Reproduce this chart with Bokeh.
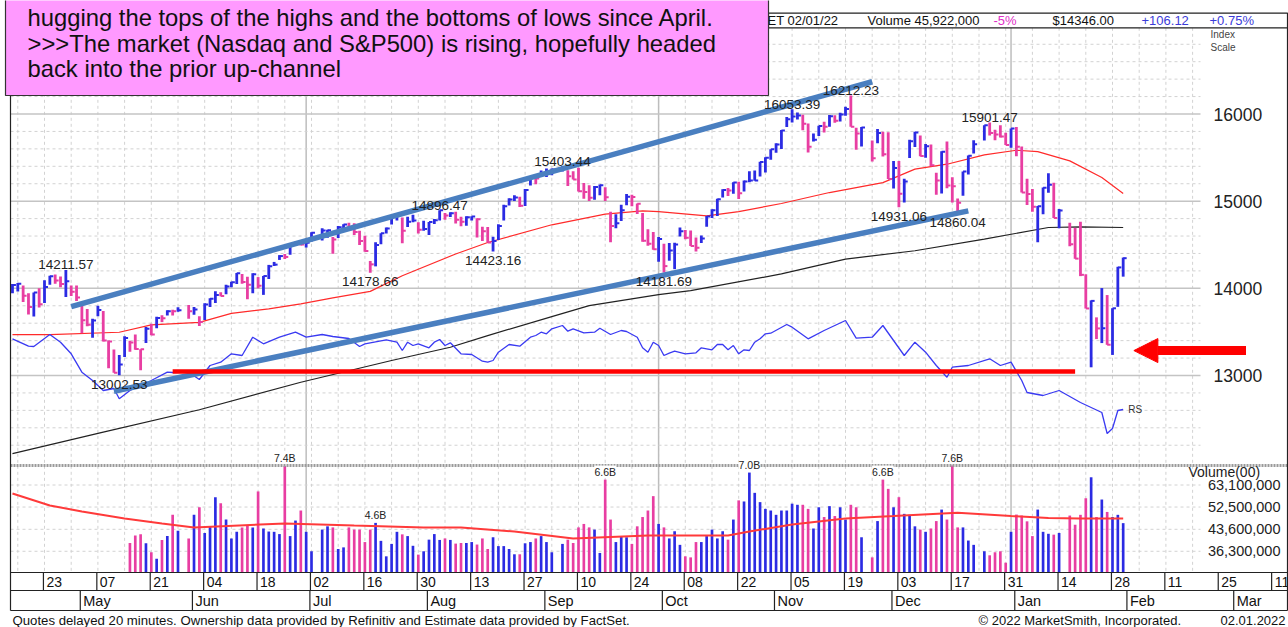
import numpy as np
import pandas as pd
from bokeh.plotting import figure
from bokeh.models import Range1d, LogScale, ColumnDataSource, LabelSet, Arrow, NormalHead
from bokeh.core.properties import value
from bokeh.embed import file_html
from bokeh.resources import INLINE

FONT = "Liberation Sans"

# ------------------------------------------------------------------ data
holidays = ["2021-05-31", "2021-07-05", "2021-09-06", "2021-11-25", "2021-12-24", "2022-01-17"]
first_day, last_day = "2021-04-15", "2022-02-01"
prior_close = 13857

highs = [
    14049, 14061, 14032, 13943, 13953, 14000, 14093, 14145, 14158, 14135, 14211.57, 14033,
    14033, 13815, 13764, 13650, 13800, 13739, 13401, 13298, 13235, 13450, 13398, 13470, 13302, 13556, 13595, 13673, 13690, 13748, 13754, 13783,
    13810, 13786, 13681, 13829, 13886, 13966, 13956, 14040, 14075, 14175, 14164, 14132, 14174, 14129, 14142, 14269, 14303, 14381, 14394, 14505, 14535, 14534,
    14529, 14643, 14689, 14671, 14588, 14715, 14734, 14751, 14748, 14660, 14603, 14314, 14528, 14633, 14699, 14841, 14850, 14813, 14822, 14844, 14757,
    14774, 14762, 14795, 14896.47, 14863, 14872, 14880, 14820, 14826, 14828, 14804, 14706, 14703, 14593, 14734, 14960, 15033, 15069, 15050, 15140, 15288, 15281,
    15353, 15376, 15375, 15403.44, 15355, 15343, 15382, 15209, 15183, 15175, 15192, 15161, 14880, 14851, 14959, 15083, 15075, 14973, 14865, 14678, 14646,
    14590, 14512, 14521, 14522, 14697, 14668, 14664, 14584, 14606, 14831, 14906, 15027, 15137, 15150, 15217, 15224, 15237, 15342, 15351, 15453, 15504,
    15596, 15664, 15817, 15966, 16053.39, 16018, 15990, 15891, 15777, 15866, 15912, 15989, 15986, 16015, 16082, 16212.23, 15843, 15852, 15695, 15827, 15795,
    15790, 15460, 15462, 15258, 15705, 15797, 15752, 15656, 15651, 15325, 15574, 15684, 15273, 15032, 15341, 15523, 15700, 15871, 15901.47, 15818, 15870, 15785,
    15833, 15852, 15626, 15257, 15141, 14944, 15157, 15319, 15210, 14911, 14752, 14695, 14765, 14161, 13862, 13667, 14003, 13923, 13772, 14247,
    14353,
]
lows = [
    13943, 13963, 13842, 13700, 13676, 13780, 13833, 14042, 14054, 14013, 13900, 13912,
    13856, 13485, 13564, 13433, 13680, 13389, 13083, 13032, 13002.53, 13212, 13272, 13296, 13061, 13373, 13463, 13541, 13615, 13687, 13689, 13731,
    13651, 13697, 13568, 13637, 13786, 13832, 13908, 13931, 14011, 14050, 14053, 13874, 13945, 14000, 13925, 14107, 14256, 14326, 14336, 14386, 14490, 14490,
    14469, 14536, 14548, 14581, 14398, 14577, 14673, 14665, 14613, 14498, 14421, 14178.66, 14252, 14507, 14630, 14732, 14779, 14517, 14704, 14758, 14629,
    14661, 14613, 14739, 14777, 14788, 14818, 14743, 14713, 14717, 14778, 14582, 14544, 14525, 14423.16, 14554, 14779, 14950, 15003, 14932, 14945, 15181, 15195,
    15283, 15278, 15296, 15340, 15174, 15248, 15112, 15029, 15001, 15015, 15068, 15002, 14530, 14690, 14772, 14954, 14941, 14852, 14535, 14489, 14444,
    14305, 14181.69, 14317, 14220, 14594, 14564, 14486, 14423, 14520, 14707, 14806, 14831, 15042, 15059, 15086, 15026, 15110, 15216, 15234, 15284, 15330,
    15476, 15555, 15598, 15850, 15903, 15938, 15813, 15558, 15685, 15749, 15789, 15855, 15901, 15914, 15979, 15853, 15589, 15627, 15455, 15664, 15513,
    15254, 15146, 14931.06, 14986, 15496, 15621, 15516, 15498, 15400, 15075, 15087, 15149, 14985, 14860.04, 15063, 15306, 15546, 15697, 15754, 15700, 15729, 15643,
    15614, 15514, 15100, 14957, 14880, 14530, 14851, 15096, 14807, 14689, 14483, 14339, 14140, 13768, 13094, 13418, 13372, 13352, 13236, 13788,
    14134,
]
closes = [
    14039, 14052, 13914, 13787, 13951, 13818, 14016, 14138, 14090, 14051, 14082, 13962,
    13895, 13633, 13582, 13632, 13752, 13402, 13389, 13032, 13125, 13430, 13379, 13304, 13300, 13535, 13471, 13661, 13657, 13738, 13736, 13749,
    13736, 13756, 13614, 13814, 13881, 13924, 13911, 14020, 14069, 14174, 14073, 14040, 14161, 14030, 14141, 14253, 14272, 14370, 14360, 14500, 14528, 14504,
    14522, 14639, 14663, 14665, 14559, 14701, 14733, 14677, 14645, 14543, 14428, 14275, 14498, 14632, 14685, 14837, 14840, 14660, 14763, 14778, 14673,
    14681, 14761, 14780, 14895, 14835, 14860, 14788, 14765, 14816, 14823, 14793, 14656, 14526, 14542, 14715, 14942, 15019, 15042, 14946, 15129, 15266, 15259,
    15310, 15331, 15364, 15374, 15287, 15249, 15115, 15106, 15038, 15162, 15182, 15044, 14714, 14747, 14897, 15052, 15048, 14970, 14547, 14512, 14449,
    14567, 14255, 14433, 14502, 14655, 14580, 14486, 14465, 14572, 14823, 14897, 15022, 15129, 15121, 15215, 15090, 15227, 15236, 15237, 15448, 15498,
    15595, 15650, 15812, 15940, 15971, 15982, 15887, 15623, 15704, 15861, 15853, 15974, 15922, 15993, 16057, 15855, 15775, 15845, 15492, 15783, 15538,
    15254, 15381, 15085, 15225, 15686, 15787, 15517, 15630, 15413, 15238, 15566, 15181, 15170, 14981, 15341, 15522, 15653, 15871, 15781, 15766, 15741, 15645,
    15833, 15623, 15100, 15081, 14936, 14943, 15153, 15188, 14807, 14894, 14507, 14341, 14155, 13769, 13856, 13540, 13542, 13353, 13771, 14240,
    14346,
]

# daily volume in billions of shares (bars start on this date)
vol_start = "2021-05-17"
volumes = [
    3.89, 4.14, 4.18, 3.88, 3.60, 3.41, 3.99, 4.12, 4.92, 4.31,
    4.04, 4.92, 5.24, 4.23, 4.47, 5.70, 5.42, 4.73, 4.04, 4.27, 4.43, 4.51, 4.43, 5.98, 4.39, 4.28, 4.27, 4.19, 7.40, 4.12, 4.69, 5.10,
    4.27, 3.63, 4.35, 4.47, 4.43, 3.70, 3.75, 4.43, 4.35, 4.35, 3.92, 4.35, 4.60, 3.96, 3.48, 3.86, 4.27, 4.18, 4.12, 3.80, 3.53,
    3.63, 4.00, 4.19, 3.99, 4.04, 3.99, 3.87, 3.89, 3.89, 3.92, 3.84, 4.04, 3.70, 4.08, 3.79, 3.79, 3.70, 3.54, 3.54, 3.88, 3.92, 4.04,
    4.12, 3.92, 3.60, 3.86, 4.00, 3.89, 4.43, 4.56, 4.43, 4.35, 3.58, 6.60, 4.73, 3.92, 4.12, 4.08, 3.86, 4.47, 4.83, 5.10, 5.75,
    4.56, 4.43, 4.04, 4.29, 3.83, 3.48, 3.45, 3.92, 3.92, 4.12, 4.35, 4.04, 4.29, 4.00, 4.73, 5.55, 5.50, 7.00, 5.91, 5.47, 5.17,
    5.10, 4.92, 5.10, 5.10, 5.40, 5.35, 5.35, 5.17, 4.39, 5.24, 4.83, 5.29, 4.87, 5.24, 4.73, 5.35, 5.24, 4.08, 3.45, 4.67, 6.60,
    6.11, 5.24, 5.70, 4.96, 4.92, 4.47, 4.35, 4.27, 4.39, 4.67, 5.14, 4.73, 7.60, 4.43, 4.43, 3.97, 3.83, 3.63, 3.51, 3.60, 3.63, 3.30,
    4.27, 4.93, 4.89, 4.66, 4.12, 5.14, 4.27, 4.20, 4.17, 4.23, 4.89, 4.53, 4.92, 5.65, 6.73, 4.83, 5.59, 5.04, 4.83, 4.92,
    4.59,
]

ma50_dates = ["2021-04-15", "2021-04-26", "2021-05-13", "2021-05-21", "2021-06-03", "2021-06-11", "2021-06-22", "2021-06-30",
              "2021-07-08", "2021-07-19", "2021-07-27", "2021-08-10", "2021-08-18", "2021-09-03", "2021-09-17", "2021-09-28",
              "2021-10-01", "2021-10-14", "2021-10-22", "2021-11-03", "2021-11-16", "2021-11-30", "2021-12-08", "2021-12-16",
              "2021-12-27", "2022-01-04", "2022-01-10", "2022-01-18", "2022-01-26", "2022-02-01"]
ma50_vals = [13469, 13469, 13496, 13581, 13610, 13713, 13764, 13821, 13890, 13965, 14145, 14394, 14526, 14729, 14852, 14889,
             14881, 14832, 14881, 14973, 15099, 15213, 15367, 15424, 15531, 15584, 15568, 15462, 15271, 15088]

ma200_dates = ["2021-04-15", "2021-05-10", "2021-06-03", "2021-06-30", "2021-07-23", "2021-08-09", "2021-08-18", "2021-09-03",
               "2021-09-14", "2021-10-01", "2021-10-11", "2021-11-03", "2021-11-19", "2021-12-08", "2021-12-27", "2022-01-12",
               "2022-01-20", "2022-02-01"]
ma200_vals = [12103, 12351, 12607, 12923, 13172, 13324, 13458, 13676, 13802, 13928, 13973, 14165, 14336, 14431, 14565, 14698,
              14706, 14698]

volma_dates = ["2021-04-15", "2021-04-26", "2021-05-04", "2021-05-14", "2021-05-25", "2021-06-02", "2021-06-25", "2021-07-14",
               "2021-08-02", "2021-08-11", "2021-08-25", "2021-09-09", "2021-09-29", "2021-10-20", "2021-10-26", "2021-11-05",
               "2021-11-19", "2021-12-02", "2021-12-20", "2022-01-03", "2022-01-12", "2022-01-20", "2022-02-01"]
volma_vals = [5.88, 5.32, 5.06, 4.77, 4.58, 4.43, 4.58, 4.50, 4.43, 4.43, 4.28, 4.04, 4.14, 4.14, 4.28, 4.54,
              4.77, 4.87, 5.01, 4.87, 4.79, 4.77, 4.77]

rs_dates = ["2021-04-15", "2021-04-20", "2021-04-21", "2021-04-26", "2021-04-28", "2021-04-30", "2021-05-04", "2021-05-06",
            "2021-05-10", "2021-05-12", "2021-05-13", "2021-05-17", "2021-05-19", "2021-05-21", "2021-05-26", "2021-05-27",
            "2021-06-01", "2021-06-03", "2021-06-07", "2021-06-09", "2021-06-11", "2021-06-15", "2021-06-17", "2021-06-21",
            "2021-06-24", "2021-06-29", "2021-07-01", "2021-07-06", "2021-07-08", "2021-07-13", "2021-07-15", "2021-07-16",
            "2021-07-22", "2021-07-26", "2021-07-27", "2021-07-28", "2021-07-29", "2021-07-30", "2021-08-03", "2021-08-04",
            "2021-08-05", "2021-08-06", "2021-08-09", "2021-08-11", "2021-08-13", "2021-08-17", "2021-08-18", "2021-08-19",
            "2021-08-20", "2021-08-24", "2021-08-26", "2021-08-30", "2021-08-31", "2021-09-01", "2021-09-02", "2021-09-03",
            "2021-09-07", "2021-09-08", "2021-09-09", "2021-09-13", "2021-09-15", "2021-09-16", "2021-09-20", "2021-09-22",
            "2021-09-23", "2021-09-27", "2021-09-28", "2021-09-29", "2021-09-30", "2021-10-01", "2021-10-04", "2021-10-05",
            "2021-10-06", "2021-10-08", "2021-10-12", "2021-10-13", "2021-10-15", "2021-10-18", "2021-10-19", "2021-10-20",
            "2021-10-21", "2021-10-22", "2021-10-25", "2021-10-26", "2021-10-27", "2021-10-28", "2021-10-29", "2021-11-01",
            "2021-11-04", "2021-11-05", "2021-11-10", "2021-11-15", "2021-11-19", "2021-11-23", "2021-11-26", "2021-11-30",
            "2021-12-06", "2021-12-08", "2021-12-10", "2021-12-14", "2021-12-16", "2021-12-17", "2021-12-22", "2021-12-28",
            "2021-12-30", "2022-01-03", "2022-01-05", "2022-01-06", "2022-01-11", "2022-01-14", "2022-01-20", "2022-01-26",
            "2022-01-27", "2022-01-28", "2022-01-31", "2022-02-01"]
rs_vals = [279.7, 272.3, 272.0, 284.0, 276.3, 264.7, 246.3, 238.0, 228.0, 230.0, 219.7, 228.0, 233.0, 238.0, 246.3, 246.0,
           246.3, 239.0, 253.0, 256.3, 264.7, 263.0, 281.3, 274.7, 281.3, 286.3, 281.3, 284.0, 282.0, 280.0, 272.0, 274.7,
           278.7, 276.3, 268.0, 276.3, 273.0, 274.7, 270.7, 276.3, 279.0, 273.0, 275.7, 264.7, 264.0, 257.3, 256.3, 258.0,
           266.3, 274.0, 272.3, 281.3, 283.0, 286.3, 284.7, 289.7, 293.0, 287.3, 289.7, 285.7, 286.3, 290.3, 284.0, 288.0,
           287.0, 281.3, 270.7, 266.3, 276.3, 273.0, 263.0, 265.3, 267.3, 264.7, 265.7, 270.7, 268.7, 274.0, 274.0, 268.7,
           273.0, 264.7, 268.7, 268.0, 276.3, 279.7, 284.7, 285.3, 294.0, 291.3, 279.7, 288.0, 298.0, 280.3, 281.3, 293.0,
           263.0, 276.3, 266.3, 253.0, 241.3, 251.3, 253.0, 259.7, 253.0, 256.3, 238.0, 226.0, 223.0, 228.0, 216.0, 206.0,
           185.0, 190.0, 208.0, 209.0]

high_label_dates = ["2021-04-29", "2021-08-05", "2021-09-07", "2021-11-05", "2021-11-22", "2021-12-28"]
low_label_dates = ["2021-05-13", "2021-07-19", "2021-08-19", "2021-10-04", "2021-12-03", "2021-12-20"]
vol_label_dates = ["2021-06-25", "2021-07-20", "2021-09-17", "2021-10-26", "2021-11-30", "2021-12-17"]

price_ticks = [13000, 14000, 15000, 16000]
vol_ticks = [6.31, 5.25, 4.36, 3.63]

# analyst annotations (date, price)
upper_channel = (("2021-04-30", 13790), ("2021-11-26", 16370))
lower_channel = (("2021-05-12", 12820), ("2021-12-22", 14889))
support_line = (("2021-05-27", 13046), ("2022-01-19", 13046))
arrow_pts = (("2022-03-04", 13286), ("2022-02-03", 13286))

note_lines = ["hugging the tops of the highs and the bottoms of lows since April.",
              ">>>The market (Nasdaq and S&P500) is rising, hopefully headed",
              "back into the prior up-channel"]

# ------------------------------------------------------------------ geometry
W, H = 1288, 627
X0, DX = 44.0, 5.34           # page-x of 2021-04-23 and pixels per weekday


def slot(d):
    return int(np.busday_count(np.datetime64("2021-04-23"), np.datetime64(pd.Timestamp(d).date())))


def price_at(ypage):
    return 13000 + (375.0 - ypage) * 3000.0 / 261.5


def vol_at(ypage):
    return 6.31 * 10 ** ((484.5 - ypage) / 276.0)


trade_days = [d for d in pd.bdate_range(first_day, last_day) if d.strftime("%Y-%m-%d") not in holidays]
assert len(trade_days) == len(closes) == len(highs) == len(lows), (len(trade_days), len(closes), len(highs), len(lows))
xs = np.array([slot(d) for d in trade_days], dtype=float)
c = np.array(closes, dtype=float)
prev = np.concatenate([[prior_close], c[:-1]])
BLUE, MAG = "#2b2be3", "#e83ea2"
colors = [BLUE if a >= b else MAG for a, b in zip(c, prev)]
color_by_day = dict(zip([d.strftime("%Y-%m-%d") for d in trade_days], colors))
idx_by_day = {d.strftime("%Y-%m-%d"): i for i, d in enumerate(trade_days)}

vdays = [d for d in trade_days if d >= pd.Timestamp(vol_start)]
assert len(vdays) == len(volumes), (len(vdays), len(volumes))

p = figure(width=W, height=H, output_backend="svg", toolbar_location=None,
           x_range=Range1d((0 - X0) / DX, (W - X0) / DX), y_range=Range1d(H, 0),
           x_axis_type=None, y_axis_type=None, min_border=0, outline_line_color=None)
p.background_fill_color = "white"
p.border_fill_color = "white"
p.extra_x_ranges = {"px": Range1d(0, W)}
p.extra_y_ranges = {"price": Range1d(price_at(H), price_at(0)),
                    "vol": Range1d(vol_at(H), vol_at(0)),
                    "rs": Range1d(618 - H, 618)}
p.extra_y_scales = {"vol": LogScale()}

PANEL_TOP, SEP_Y, AXIS_Y = 27.3, 465.0, 572.0
PLOT_L, PLOT_R, RIGHT = 10.0, 1200.0, 1287.0

# ---------------- grid
fri = [s for s in range(-5, 217, 5)]
p.segment(x0=fri, x1=fri, y0=[PANEL_TOP] * len(fri), y1=[AXIS_Y] * len(fri),
          line_color="#d2d2d2", line_width=1, line_dash="3 3")
qtr = [slot(d) for d in ["2021-07-01", "2021-10-01", "2022-01-03"]]
p.segment(x0=qtr, x1=qtr, y0=[PANEL_TOP] * 3, y1=[AXIS_Y] * 3, line_color="#bdbdbd", line_width=1.5)

lev = [v for v in range(12200, 16801, 200)]
dash_lev = [v for v in lev if v % 1000]
solid_lev = [v for v in lev if v % 1000 == 0]
p.segment(x0=[PLOT_L] * len(dash_lev), x1=[PLOT_R] * len(dash_lev), y0=dash_lev, y1=dash_lev,
          x_range_name="px", y_range_name="price", line_color="#d2d2d2", line_width=1, line_dash="3 3")
p.segment(x0=[PLOT_L] * len(solid_lev), x1=[PLOT_R] * len(solid_lev), y0=solid_lev, y1=solid_lev,
          x_range_name="px", y_range_name="price", line_color="#c4c4c4", line_width=1.5)
p.segment(x0=[PLOT_L] * 4, x1=[PLOT_R] * 4, y0=vol_ticks, y1=vol_ticks,
          x_range_name="px", y_range_name="vol", line_color="#d2d2d2", line_width=1, line_dash="3 3")

# ---------------- moving averages & RS
p.line([slot(d) for d in ma200_dates], ma200_vals, y_range_name="price", line_color="#222222", line_width=1.2)
p.line([slot(d) for d in ma50_dates], ma50_vals, y_range_name="price", line_color="#ff2a2a", line_width=1.2)
p.line([slot(d) for d in rs_dates], rs_vals, y_range_name="rs", line_color="#3a3af2", line_width=1.3)

# ---------------- volume
vbase = vol_at(AXIS_Y)
vtop_cap = vol_at(SEP_Y)
vx = [slot(d) for d in vdays]
vcol = [color_by_day[d.strftime("%Y-%m-%d")] for d in vdays]
p.vbar(x=vx, width=0.5, bottom=vbase, top=np.minimum(np.array(volumes), vtop_cap),
       y_range_name="vol", fill_color=vcol, line_color=None)
p.line([slot(d) for d in volma_dates], volma_vals, y_range_name="vol", line_color="#ff3a3a", line_width=2)

# separator between panels
p.segment(x0=[PLOT_L], x1=[RIGHT], y0=[SEP_Y], y1=[SEP_Y], x_range_name="px",
          line_color="#9a9a9a", line_width=3, line_dash="2 1")

vol_map = dict(zip([d.strftime("%Y-%m-%d") for d in vdays], volumes))
vl_src = ColumnDataSource(dict(
    x=[slot(d) for d in vol_label_dates],
    y=[min(vol_map[d], vtop_cap) for d in vol_label_dates],
    t=["%.1fB" % vol_map[d] for d in vol_label_dates]))
p.add_layout(LabelSet(x="x", y="y", text="t", source=vl_src, y_range_name="vol",
                      text_align="center", text_baseline="bottom", y_offset=2,
                      text_font=value(FONT), text_font_size="10.5px", text_color="#222222",
                      background_fill_color="white"))

# ---------------- price bars
p.segment(x0=xs, x1=xs, y0=lows, y1=highs, y_range_name="price", line_color=colors, line_width=2.8)
p.segment(x0=xs, x1=xs + 0.65, y0=closes, y1=closes, y_range_name="price", line_color=colors, line_width=2)

# ---------------- analyst lines
for (a, b), col, lw in [(upper_channel, "#4a7fc0", 5.5), (lower_channel, "#4a7fc0", 5.5), (support_line, "#ff0000", 4.5)]:
    p.line([slot(a[0]), slot(b[0])], [a[1], b[1]], y_range_name="price", line_color=col, line_width=lw)
p.add_layout(Arrow(end=NormalHead(size=24, fill_color="#ff0000", line_color="#ff0000"),
                   x_start=slot(arrow_pts[0][0]), y_start=arrow_pts[0][1],
                   x_end=slot(arrow_pts[1][0]), y_end=arrow_pts[1][1],
                   y_range_name="price", line_color="#ff0000", line_width=9))

# ---------------- high / low labels
hx = [slot(d) for d in high_label_dates]
hy = [highs[idx_by_day[d]] for d in high_label_dates]
p.text(x=hx, y=hy, text=["%.2f" % v for v in hy], y_range_name="price", y_offset=-5,
       text_align="center", text_baseline="middle", text_font=value(FONT), text_font_size="13.5px", text_color="#222222")
lx = [slot(d) for d in low_label_dates]
ly = [lows[idx_by_day[d]] for d in low_label_dates]
p.text(x=lx, y=ly, text=["%.2f" % v for v in ly], y_range_name="price", y_offset=9,
       text_align="center", text_baseline="middle", text_font=value(FONT), text_font_size="13.5px", text_color="#222222")

# RS tag
p.text(x=[slot(rs_dates[-1])], y=[rs_vals[-1]], text=["RS"], y_range_name="rs", x_offset=5,
       text_align="left", text_baseline="middle", text_font=value(FONT), text_font_size="10px", text_color="#333333")

# ---------------- right axes
p.text(x=[1213] * 4, y=price_ticks, text=[str(v) for v in price_ticks], x_range_name="px", y_range_name="price",
       text_align="left", text_baseline="middle", text_font=value(FONT), text_font_size="17.5px", text_color="#222222")
p.text(x=[1210, 1210], y=[33.5, 47], text=["Index", "Scale"], x_range_name="px",
       text_align="left", text_baseline="middle", text_font=value(FONT), text_font_size="10px", text_color="#444444")
p.text(x=[1280] * 4, y=vol_ticks, text=["{:,}".format(int(round(v * 1e7))) for v in vol_ticks],
       x_range_name="px", y_range_name="vol", text_align="right", text_baseline="middle",
       text_font=value(FONT), text_font_size="14.5px", text_color="#222222")
p.text(x=[1188], y=[471], text=["Volume(00)"], x_range_name="px", text_align="left", text_baseline="middle",
       text_font=value(FONT), text_font_size="14px", text_color="#222222")

# ---------------- date axis band
p.segment(x0=[PLOT_L] * 3, x1=[RIGHT] * 3, y0=[AXIS_Y, 590, 610], y1=[AXIS_Y, 590, 610], x_range_name="px",
          line_color="#222222", line_width=1.2)
day_ticks = [pd.Timestamp("2021-04-23") + pd.Timedelta(days=14 * i) for i in range(24)]
dts = [slot(d) - 0.2 for d in day_ticks]
p.segment(x0=dts, x1=dts, y0=[AXIS_Y] * len(dts), y1=[590] * len(dts), line_color="#222222", line_width=1.2)
p.text(x=dts, y=[581.5] * len(dts), text=[d.strftime("%d") for d in day_ticks], x_offset=3,
       text_align="left", text_baseline="middle", text_font=value(FONT), text_font_size="14px", text_color="#111111")
month_starts = [pd.offsets.BDay().rollforward(m) for m in pd.date_range("2021-05-01", "2022-03-01", freq="MS")]
mts = [slot(d) + 0.7 for d in month_starts]
p.segment(x0=mts, x1=mts, y0=[590] * len(mts), y1=[610] * len(mts), line_color="#222222", line_width=1.2)
p.text(x=mts, y=[600.5] * len(mts), text=[d.strftime("%b") for d in month_starts], x_offset=3,
       text_align="left", text_baseline="middle", text_font=value(FONT), text_font_size="14.5px", text_color="#111111")

# outer borders
p.segment(x0=[PLOT_L, RIGHT], x1=[PLOT_L, RIGHT], y0=[PANEL_TOP, 12.7], y1=[610, 610], x_range_name="px",
          line_color="#222222", line_width=1.2)

# ---------------- header strip
p.quad(left=[768], right=[RIGHT], top=[12.7], bottom=[PANEL_TOP], x_range_name="px",
       fill_color="white", line_color="#222222", line_width=1.2)
hdr = [(767, "ET 02/01/22", "#111111"), (867, "Volume 45,922,000", "#111111"), (993, "-5%", "#e030c8"),
       (1052, "$14346.00", "#111111"), (1141, "+106.12", "#3b3bd8"), (1209, "+0.75%", "#3b3bd8")]
for hx_, ht, hc in hdr:
    p.text(x=[hx_], y=[20.0], text=[ht], x_range_name="px", text_align="left", text_baseline="middle",
           text_font=value(FONT), text_font_size="13px", text_color=hc)

# ---------------- note box
p.quad(left=[5], right=[768], top=[-5], bottom=[95], x_range_name="px",
       fill_color="#ff99ff", line_color="#333333", line_width=1.2)
p.text(x=[27] * 3, y=[17, 42.5, 68], text=note_lines, x_range_name="px", text_align="left",
       text_baseline="middle", text_font=value(FONT), text_font_size="23.8px", text_color="#111111")

# ---------------- footer
p.text(x=[12], y=[620], text=["Quotes delayed 20 minutes. Ownership data provided by Refinitiv and Estimate data provided by FactSet."],
       x_range_name="px", text_align="left", text_baseline="middle", text_font=value(FONT),
       text_font_size="13.2px", text_color="#111111")
p.text(x=[978, 1220], y=[620, 620], text=["\u00a9 2022 MarketSmith, Incorporated.", "02.01.2022"],
       x_range_name="px", text_align="left", text_baseline="middle", text_font=value(FONT),
       text_font_size="13px", text_color="#111111")

open("out.html", "w").write(file_html(p, INLINE))
